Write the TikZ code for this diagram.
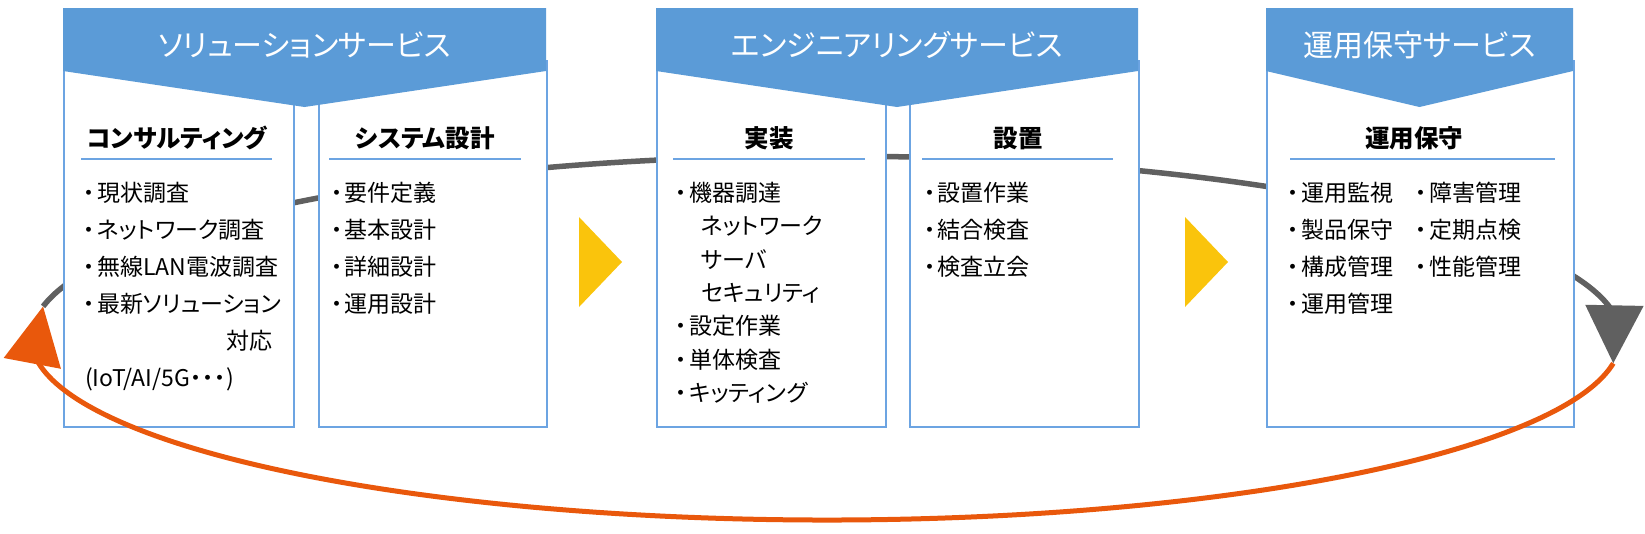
\documentclass[tikz,border=0pt]{standalone}
\usepackage{fontspec}
\setmainfont{Noto Sans CJK JP}[RawFeature=+palt]
\usetikzlibrary{arrows.meta,bending}
\definecolor{hdrblue}{RGB}{91,155,215}
\definecolor{edgeblue}{RGB}{108,164,226}
\definecolor{loopgray}{RGB}{96,96,96}
\definecolor{looporange}{RGB}{233,88,12}
\definecolor{flowyellow}{RGB}{250,196,12}
\newcommand{\itm}{\makebox[16pt][c]{・}}
\newcommand{\ndot}{\makebox[12pt][c]{・}}

\tikzset{
  hdr/.style = {fill=hdrblue},
  subbox/.style = {draw=edgeblue, line width=1.6pt, fill=white, minimum height=366pt, anchor=north west, inner sep=0pt},
  svctitle/.style = {text=white, font=\fontsize{30}{30}\selectfont, inner sep=0pt, text height=26.4pt, text depth=3.6pt},
  subhead/.style = {font=\bfseries\fontsize{24.5}{24.5}\selectfont, inner sep=0pt, text height=21.5pt, text depth=3pt},
  entry/.style = {font=\fontsize{23}{23}\selectfont, inner sep=0pt, anchor=west, text height=20pt, text depth=3pt},
  uline/.style = {draw=edgeblue, line width=1.5pt},
  loopline/.style = {line width=5.5pt, -{Triangle[width=57pt,length=58pt,flex]}},
  flowtri/.style = {fill=flowyellow}
}

\begin{document}
\begin{tikzpicture}[x=1pt,y=-1pt]
  \useasboundingbox (0,0) rectangle (1645,533);

  % upper half of the loop (behind the boxes)
  \draw[loopline, loopgray] (826,338) ++(190:795 and 182)
      arc[start angle=190, end angle=368, x radius=795, y radius=182];

  % solution service
  \node[subbox, minimum width=230pt] (consult) at (63,60) {};
  \node[subbox, minimum width=228pt] (sysdes) at (318,60) {};
  \fill[hdr] (63,8) -- (546,8) -- (546,71) -- (304.5,107) -- (63,71) -- cycle;
  \node[svctitle] (sol) at (304.5,45.5) {ソリューションサービス};

  % engineering service
  \node[subbox, minimum width=229pt] (impl) at (656,60) {};
  \node[subbox, minimum width=229pt] (inst) at (909,60) {};
  \fill[hdr] (656,8) -- (1138,8) -- (1138,71) -- (897,107) -- (656,71) -- cycle;
  \node[svctitle] (eng) at (897,45.5) {エンジニアリングサービス};

  % operation service
  \node[subbox, minimum width=307pt] (ops) at (1266,60) {};
  \fill[hdr] (1266,8) -- (1573,8) -- (1573,71) -- (1419.5,107) -- (1266,71) -- cycle;
  \node[svctitle] (opsvc) at (1419.5,45.5) {運用保守サービス};

  % flow marks
  \fill[flowtri] (579,217) -- (622,262) -- (579,307) -- cycle;
  \fill[flowtri] (1185,217) -- (1228,262) -- (1185,307) -- cycle;

  % headings
  \node[subhead] (consult-h) at (177,138) {コンサルティング};
  \node[subhead] (sysdes-h) at (425,138) {システム設計};
  \node[subhead] (impl-h) at (769,138) {実装};
  \node[subhead] (inst-h) at (1018,138) {設置};
  \node[subhead] (ops-h) at (1414,138) {運用保守};
  \draw[uline] (81,159) -- (272,159);
  \draw[uline] (329,159) -- (521,159);
  \draw[uline] (673,159) -- (865,159);
  \draw[uline] (922,159) -- (1113,159);
  \draw[uline] (1290,159) -- (1555,159);

  % lists
  \foreach \t [count=\i] in {現状調査, ネットワーク調査, 無線LAN電波調査, 最新ソリューション}
    \node[entry] (consult-\i) at (81,{193+37*(\i-1)}) {\itm\t};
  \node[entry, anchor=east] (consult-5) at (273,341) {対応};
  \node[entry] (consult-6) at (85,378) {(IoT/AI/5G\ndot\ndot\ndot)};
  \foreach \t [count=\i] in {要件定義, 基本設計, 詳細設計, 運用設計}
    \node[entry] (sysdes-\i) at (328.6,{193+37*(\i-1)}) {\itm\t};
  \foreach \t [count=\i] in {\itm 機器調達, \hspace*{28pt}ネットワーク, \hspace*{28pt}サーバ,
      \hspace*{28pt}セキュリティ, \itm 設定作業, \itm 単体検査, \itm キッティング}
    \node[entry] (impl-\i) at (673,{193+33.33*(\i-1)}) {\t};
  \foreach \t [count=\i] in {設置作業, 結合検査, 検査立会}
    \node[entry] (inst-\i) at (921.5,{193+37*(\i-1)}) {\itm\t};
  \foreach \t [count=\i] in {運用監視, 製品保守, 構成管理, 運用管理}
    \node[entry] (opsa-\i) at (1285,{193+37*(\i-1)}) {\itm\t};
  \foreach \t [count=\i] in {障害管理, 定期点検, 性能管理}
    \node[entry] (opsb-\i) at (1413,{193+37*(\i-1)}) {\itm\t};

  % lower half of the loop (over the boxes)
  \draw[loopline, looporange, line width=5pt] (826,338) ++(8:795 and 182)
      arc[start angle=8, end angle=190, x radius=795, y radius=182];
\end{tikzpicture}
\end{document}
